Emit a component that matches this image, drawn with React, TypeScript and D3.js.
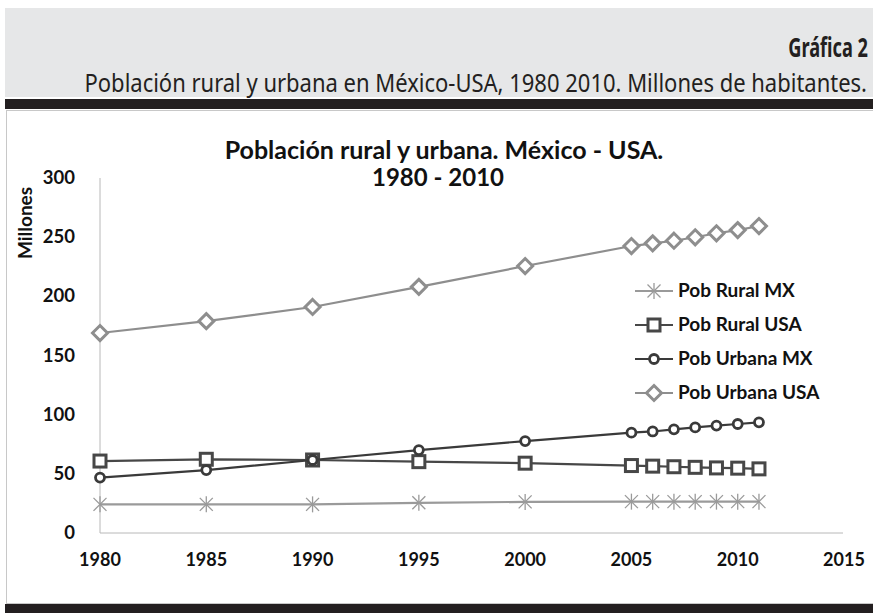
import React from 'react'
import * as d3 from 'd3'

const years = [1980, 1985, 1990, 1995, 2000, 2005, 2006, 2007, 2008, 2009, 2010, 2011]
const ruralMX = [24.2, 24.2, 24.2, 25.5, 26.3, 26.5, 26.5, 26.5, 26.5, 26.5, 26.5, 26.5]
const ruralUSA = [60.8, 62.3, 61.7, 60.3, 59, 57, 56.5, 56, 55.5, 55, 54.8, 54.2]
const urbanaMX = [46.8, 53.2, 61.7, 70.1, 77.7, 84.8, 85.8, 87.6, 89.2, 90.8, 92.1, 93.5]
const urbanaUSA = [169, 179, 191, 208, 225.6, 242.5, 244.8, 247, 249.9, 253.3, 256, 259.4]

const xTicks = [1980, 1985, 1990, 1995, 2000, 2005, 2010, 2015]
const yTicks = [0, 50, 100, 150, 200, 250, 300]

type Marker = 'star' | 'square' | 'circle' | 'diamond'

const series: { name: string, values: number[], color: string, marker: Marker }[] = [
    { name: 'Pob Rural MX', values: ruralMX, color: '#9a9a9a', marker: 'star' },
    { name: 'Pob Rural USA', values: ruralUSA, color: '#474747', marker: 'square' },
    { name: 'Pob Urbana MX', values: urbanaMX, color: '#3a3a3a', marker: 'circle' },
    { name: 'Pob Urbana USA', values: urbanaUSA, color: '#8e8e8e', marker: 'diamond' },
]

const chartFont = 'Lato, "Open Sans", sans-serif'
const headFont = '"Noto Sans", "DejaVu Sans", sans-serif'

const MarkerShape = ({ type, x, y, color }: { type: Marker, x: number, y: number, color: string }) => {
    if (type === 'star') {
        const r = 8
        const d = 6.5
        return (
            <g stroke={color} strokeWidth={1.3}>
                <line x1={x} y1={y - r} x2={x} y2={y + r} />
                <line x1={x - d} y1={y - d} x2={x + d} y2={y + d} />
                <line x1={x - d} y1={y + d} x2={x + d} y2={y - d} />
            </g>
        )
    }
    if (type === 'square') {
        return <rect x={x - 6} y={y - 6} width={12} height={12} fill="white" stroke={color} strokeWidth={3} />
    }
    if (type === 'circle') {
        return <circle cx={x} cy={y} r={4.5} fill="white" stroke={color} strokeWidth={2.8} />
    }
    return <path d={`M${x},${y - 7.5}L${x + 7.5},${y}L${x},${y + 7.5}L${x - 7.5},${y}Z`} fill="white" stroke={color} strokeWidth={3} />
}

const App = () => {
    const x = d3.scaleLinear().domain([1980, 2015]).range([100, 844])
    const y = d3.scaleLinear().domain([0, 300]).range([533, 178])

    const line = d3.line<[number, number]>()
        .x(d => x(d[0]))
        .y(d => y(d[1]))

    const legendY = [291, 325, 359, 393]

    return (
        <svg width={873} height={613} style={{ position: 'absolute', left: 0, top: 0 }}>
            <rect x={0} y={0} width={873} height={613} fill="white" />
            {/* header */}
            <rect x={5} y={8} width={868} height={89} fill="#e6e7e8" />
            <g transform="translate(868,57) scale(0.7,1)">
                <text x={0} y={0} textAnchor="end" fontFamily={headFont} fontWeight="bold" fontSize={26} fill="#231f20">Gráfica 2</text>
            </g>
            <g transform="translate(867,92) scale(0.88,1)">
                <text x={0} y={0} textAnchor="end" fontFamily={headFont} fontSize={25} fill="#231f20">
                    Población rural y urbana en México-USA, 1980 2010. Millones de habitantes.
                </text>
            </g>
            <rect x={5} y={99} width={868} height={10} fill="#231f20" />
            <rect x={6.5} y={110.5} width={870} height={493} fill="none" stroke="#c8c8c8" />
            <rect x={5} y={604} width={868} height={9} fill="#231f20" />

            {/* titles */}
            <text x={444} y={159} textAnchor="middle" fontFamily={chartFont} fontWeight="bold" fontSize={25} fill="#111">
                Población rural y urbana. México - USA.
            </text>
            <text x={438} y={186} textAnchor="middle" fontFamily={chartFont} fontWeight="bold" fontSize={24} fill="#111">
                1980 - 2010
            </text>
            <text transform="translate(32,223) rotate(-90)" textAnchor="middle" fontFamily={chartFont} fontWeight="bold" fontSize={19} fill="#111">
                Millones
            </text>

            {/* axes */}
            <line x1={100} y1={y(300)} x2={100} y2={y(0)} stroke="#b8b8b8" />
            <line x1={100} y1={y(0)} x2={843} y2={y(0)} stroke="#b8b8b8" />
            {yTicks.map(t => (
                <text key={t} x={75} y={y(t) + 6} textAnchor="end" fontFamily={chartFont} fontWeight="bold" fontSize={18.5} fill="#111">{t}</text>
            ))}
            {xTicks.map(t => (
                <text key={t} x={x(t)} y={566} textAnchor="middle" fontFamily={chartFont} fontWeight="bold" fontSize={18} fill="#111">{t}</text>
            ))}

            {/* series */}
            {series.map(s => (
                <g key={s.name}>
                    <path d={line(years.map((yr, i) => [yr, s.values[i]] as [number, number]))!} fill="none" stroke={s.color} strokeWidth={2.2} />
                    {years.map((yr, i) => (
                        <MarkerShape key={yr} type={s.marker} x={x(yr)} y={y(s.values[i])} color={s.color} />
                    ))}
                </g>
            ))}

            {/* legend */}
            {series.map((s, i) => (
                <g key={s.name}>
                    <line x1={635} y1={legendY[i]} x2={673} y2={legendY[i]} stroke={s.color} strokeWidth={2.2} />
                    <MarkerShape type={s.marker} x={654} y={legendY[i]} color={s.color} />
                    <text x={678} y={legendY[i] + 6} fontFamily={chartFont} fontWeight="bold" fontSize={19} fill="#111">{s.name}</text>
                </g>
            ))}
        </svg>
    )
}

export default App
